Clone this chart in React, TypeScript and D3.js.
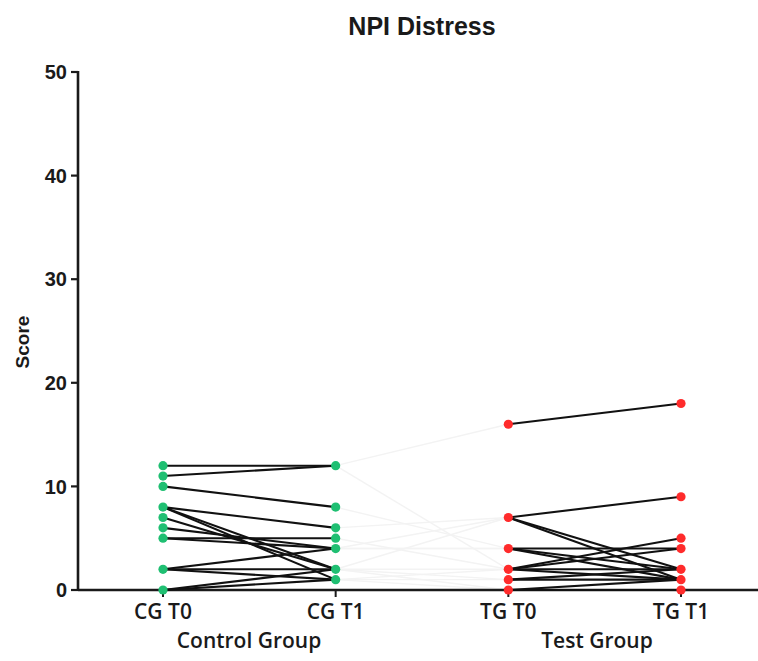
import React from "react";
import * as d3 from "d3";

// Time points on the x axis
const categories = ["CG T0", "CG T1", "TG T0", "TG T1"];
const groupLabels = ["Control Group", "Test Group"];
const yTicks = [0, 10, 20, 30, 40, 50];

// Paired scores per subject (same index = same subject)
const cgT0 = [12, 11, 10, 8, 8, 8, 7, 6, 5, 5, 2, 2, 2, 0, 0];
const cgT1 = [12, 12, 8, 6, 2, 1, 2, 4, 5, 4, 4, 2, 1, 2, 1];
const tgT0 = [16, 2, 4, 7, 1, 0, 7, 4, 2, 7, 4, 2, 1, 0, 2];
const tgT1 = [18, 5, 4, 9, 1, 0, 2, 2, 2, 1, 1, 1, 2, 1, 4];

const W = 758;
const H = 661;
const axisX = 78;
const axisY = 590;
const topY = 72;

const FONT = "'Liberation Sans', Arial, sans-serif";
const CAT_FONT = "'Open Sans', 'Liberation Sans', sans-serif";
const GREEN = "#1fbf72";
const RED = "#ff2b2b";

export default function App() {
  const x = d3.scalePoint<string>().domain(categories).range([163, 681]);
  const y = d3.scaleLinear().domain([0, 50]).range([axisY, topY]);

  const pair = (a: number[], b: number[], ca: string, cb: string) =>
    a.map((v, i) => ({ x1: x(ca)!, y1: y(v), x2: x(cb)!, y2: y(b[i]) }));

  const cgLines = pair(cgT0, cgT1, "CG T0", "CG T1");
  const tgLines = pair(tgT0, tgT1, "TG T0", "TG T1");
  const bridge = pair(cgT1, tgT0, "CG T1", "TG T0");

  const dots = (vals: number[], cat: string, color: string) =>
    Array.from(new Set(vals)).map((v) => (
      <circle key={cat + v} cx={x(cat)} cy={y(v)} r={4.6} fill={color} />
    ));

  return (
    <svg
      width={W}
      height={H}
      style={{ position: "absolute", left: 0, top: 0, background: "#fff" }}
    >
      <text
        x={422}
        y={35}
        textAnchor="middle"
        fontFamily={FONT}
        fontWeight="bold"
        fontSize={25}
        fill="#1a1a1a"
      >
        NPI Distress
      </text>

      {/* y axis */}
      <line x1={axisX} x2={axisX} y1={topY - 1} y2={axisY + 1} stroke="#1a1a1a" strokeWidth={2.6} />
      {yTicks.map((t) => (
        <g key={t}>
          <line x1={axisX - 7} x2={axisX} y1={y(t)} y2={y(t)} stroke="#1a1a1a" strokeWidth={2.2} />
          <text
            x={axisX - 11}
            y={y(t)}
            dy="0.36em"
            textAnchor="end"
            fontFamily={FONT}
            fontWeight="bold"
            fontSize={20}
            fill="#1a1a1a"
          >
            {t}
          </text>
        </g>
      ))}
      <text
        transform={`translate(29,${342}) rotate(-90)`}
        textAnchor="middle"
        fontFamily={FONT}
        fontWeight="bold"
        fontSize={19}
        fill="#1a1a1a"
      >
        Score
      </text>

      {/* faint links between the groups */}
      {bridge.map((l, i) => (
        <line key={"b" + i} {...l} stroke="#f3f3f3" strokeWidth={1.4} />
      ))}

      {/* x axis */}
      <line x1={axisX} x2={W} y1={axisY} y2={axisY} stroke="#1a1a1a" strokeWidth={2.6} />
      {categories.map((c) => (
        <g key={c}>
          <line x1={x(c)} x2={x(c)} y1={axisY} y2={axisY + 7} stroke="#1a1a1a" strokeWidth={2} />
          <text
            x={x(c)}
            y={axisY + 29}
            textAnchor="middle"
            fontFamily={CAT_FONT}
            fontWeight="600"
            fontSize={21}
            fill="#1a1a1a"
          >
            {c}
          </text>
        </g>
      ))}
      {groupLabels.map((g, i) => (
        <text
          key={g}
          x={i === 0 ? 249 : 597}
          y={axisY + 58}
          textAnchor="middle"
          fontFamily={CAT_FONT}
          fontWeight="600"
          fontSize={21}
          fill="#1a1a1a"
        >
          {g}
        </text>
      ))}

      {/* subject lines */}
      {cgLines.concat(tgLines).map((l, i) => (
        <line key={"l" + i} {...l} stroke="#111" strokeWidth={2.1} />
      ))}

      {dots(cgT0, "CG T0", GREEN)}
      {dots(cgT1, "CG T1", GREEN)}
      {dots(tgT0, "TG T0", RED)}
      {dots(tgT1, "TG T1", RED)}
    </svg>
  );
}
